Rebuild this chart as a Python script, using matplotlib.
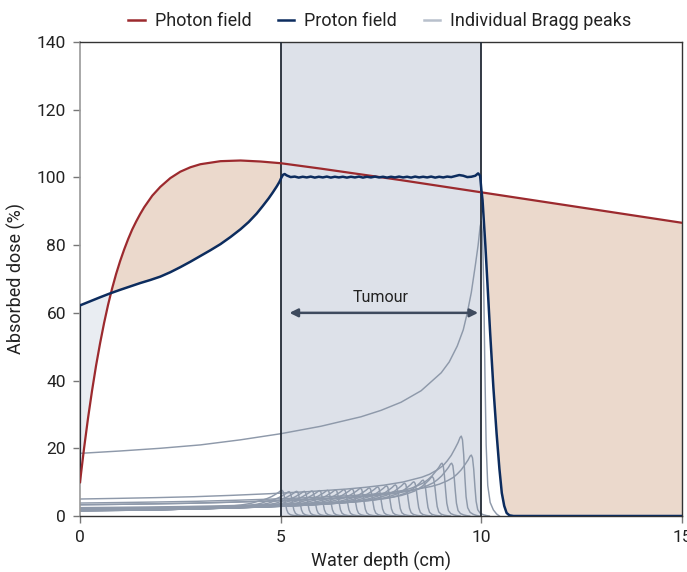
import numpy as np
import matplotlib
matplotlib.use("Agg")
import matplotlib.pyplot as plt
from matplotlib.lines import Line2D

plt.rcParams['font.family'] = ['Roboto', 'DejaVu Sans']

# ---------------- data ----------------
photon_depth = [0, 0.1, 0.2, 0.3, 0.4, 0.5, 0.6, 0.7, 0.8, 0.9, 1.0, 1.1, 1.2, 1.3,
                1.4, 1.5, 1.6, 1.8, 2.0, 2.25, 2.5, 2.75, 3.0, 3.5, 4.0, 4.5, 5.0,
                6.0, 7.0, 8.0, 9.0, 10.0, 11.0, 12.0, 13.0, 14.0, 15.0]
photon_dose = [10.0, 19.9, 28.9, 37.0, 44.4, 51.0, 57.0, 62.4, 67.2, 71.5, 75.3, 78.7,
               81.8, 84.6, 87.0, 89.2, 91.2, 94.6, 97.2, 99.8, 101.7, 103.0, 103.9,
               104.8, 105.0, 104.7, 104.2, 102.6, 100.9, 99.2, 97.4, 95.6, 93.8, 92.0,
               90.2, 88.4, 86.6]

proton_depth = [0, 0.25, 0.5, 0.75, 1.0, 1.25, 1.5, 1.75, 2.0, 2.25, 2.5, 2.75, 3.0,
                3.25, 3.5, 3.75, 4.0, 4.2, 4.4, 4.55, 4.7, 4.8, 4.9, 4.97, 5.02, 5.06,
                5.1, 5.15, 5.25, 5.35, 5.45, 5.55, 5.65, 5.75, 5.85, 5.95, 6.05, 6.15,
                6.25, 6.35, 6.45, 6.55, 6.65, 6.75, 6.85, 6.95, 7.05, 7.15, 7.25, 7.35,
                7.45, 7.55, 7.65, 7.75, 7.85, 7.95, 8.05, 8.15, 8.25, 8.35, 8.45, 8.55,
                8.65, 8.75, 8.85, 8.95, 9.05, 9.15, 9.25, 9.35, 9.45, 9.55, 9.65, 9.75,
                9.85, 9.92, 9.97, 10.0, 10.03, 10.1, 10.22, 10.3, 10.38, 10.45, 10.51,
                10.57, 10.63, 10.7, 10.8, 15.0]
proton_dose = [62.2, 63.4, 64.6, 65.75, 66.8, 67.8, 68.8, 69.7, 70.7, 72.0, 73.5, 75.1,
               76.8, 78.5, 80.3, 82.4, 84.7, 86.8, 89.3, 91.5, 93.8, 95.5, 97.3, 98.7,
               100.0, 100.8, 101.0, 100.6, 100.1, 100.25, 99.95, 100.2, 100.0, 100.25,
               99.95, 100.2, 100.0, 100.25, 99.95, 100.2, 100.0, 100.2, 99.95, 100.2,
               100.0, 100.25, 99.95, 100.2, 100.0, 100.25, 100.0, 100.2, 99.95, 100.2,
               100.0, 100.25, 100.0, 100.2, 99.95, 100.25, 100.0, 100.2, 100.0, 100.25,
               99.95, 100.2, 100.0, 100.25, 100.1, 100.4, 100.7, 100.5, 100.1, 100.2,
               100.5, 101.2, 100.5, 96.5, 93.3, 80.0, 54.0, 38.0, 24.4, 14.0, 6.8, 3.0,
               0.9, 0.2, 0.0, 0.0]

# shape of the pristine (deepest) Bragg peak: peak position 10 cm, height 87 %
bragg_shape_depth = [0, 1, 2, 3, 4, 5, 6, 7, 7.5, 8, 8.5, 9.0, 9.2, 9.4, 9.55, 9.65,
                     9.75, 9.85, 9.92, 9.97, 10.0, 10.03, 10.06, 10.09, 10.12, 10.16,
                     10.22, 10.3, 10.38, 10.45]
bragg_shape_dose = [18.5, 19.2, 20.0, 21.0, 22.5, 24.3, 26.5, 29.3, 31.2, 33.6, 37.0,
                    42.3, 45.5, 50.2, 55.0, 60.0, 66.0, 74.0, 80.0, 85.5, 87.0, 83.0,
                    67.0, 42.0, 21.0, 9.0, 4.0, 1.8, 0.6, 0.0]

peak_positions = [10.0, 9.75, 9.5, 9.26, 9.02, 8.78, 8.55, 8.32, 8.09, 7.86, 7.64, 7.42,
                  7.21, 6.99, 6.78, 6.58, 6.37, 6.17, 5.97, 5.78, 5.59, 5.40, 5.21, 5.03]
peak_heights = [87.0, 18.0, 23.6, 15.6, 15.6, 11.6, 10.6, 10.1, 9.7, 9.2, 8.9, 8.6,
                8.3, 8.2, 8.0, 7.8, 7.7, 7.6, 7.5, 7.4, 7.3, 7.3, 7.2, 7.6]

tumour_start, tumour_end = 5, 10
arrow_y = 60
x_ticks = [0, 5, 10, 15]
y_ticks = [0, 20, 40, 60, 80, 100, 120, 140]
legend_labels = ["Photon field", "Proton field", "Individual Bragg peaks"]

# ---------------- styling ----------------
c_photon = "#9c2a2e"
c_proton = "#0c2c5e"
c_bragg = "#8e99aa"
c_orange = "#ebd9cc"
c_tumour = "#dde1e9"
c_left = "#e9edf2"
c_arrow = "#3e4a5e"
c_text = "#222222"

fig = plt.figure(figsize=(6.87, 5.72), dpi=100)
ax = fig.add_axes([80/687, 1-516/572, (682-80)/687, (516-42)/572])

ax.axvspan(tumour_start, tumour_end, color=c_tumour, lw=0, zorder=0)

grid = np.linspace(0, 15, 6001)
ph = np.interp(grid, photon_depth, photon_dose)
pr = np.interp(grid, proton_depth, proton_dose)
lm = grid <= tumour_start
rm = grid >= tumour_end
ax.fill_between(grid[lm], ph[lm], pr[lm], where=ph[lm] >= pr[lm], interpolate=True,
                color=c_orange, lw=0, zorder=1)
ax.fill_between(grid[lm], ph[lm], pr[lm], where=pr[lm] > ph[lm], interpolate=True,
                color=c_left, lw=0, zorder=1)
ax.fill_between(grid[rm], ph[rm], pr[rm], where=ph[rm] >= pr[rm], interpolate=True,
                color=c_orange, lw=0, zorder=1)

# individual Bragg peaks: entrance part stretched to each range,
# peak region kept at the same width and shifted
sd = np.array(bragg_shape_depth)
sv = np.array(bragg_shape_dose)
ref_peak = 10.0
knee = 9.4
for R, H in zip(peak_positions, peak_heights):
    xs = np.where(sd < knee, sd / knee * (R - (ref_peak - knee)), R + (sd - ref_peak))
    ax.plot(xs, sv * H / sv.max(), color=c_bragg, lw=1.05, zorder=2)

ax.axvline(tumour_start, color="#232b36", lw=1.3, zorder=3)
ax.axvline(tumour_end, color="#232b36", lw=1.3, zorder=3)
ax.plot([0, 0], [photon_dose[0], proton_dose[0]], color="#232b36", lw=1.6, zorder=3)

ax.plot(photon_depth, photon_dose, color=c_photon, lw=1.6, zorder=4)
ax.plot(proton_depth, proton_dose, color=c_proton, lw=1.8, zorder=5)

ax.annotate("", xy=(5.22, arrow_y), xytext=(9.92, arrow_y),
            arrowprops=dict(arrowstyle="<|-|>", color=c_arrow, lw=1.8,
                            mutation_scale=12, shrinkA=0, shrinkB=0), zorder=6)
ax.text(7.5, arrow_y + 2.2, "Tumour", ha="center", va="bottom", fontsize=11.5,
        color=c_text, zorder=6)

ax.set_xlim(0, 15)
ax.set_ylim(0, 140)
ax.set_xticks(x_ticks)
ax.set_yticks(y_ticks)
ax.tick_params(axis='both', direction='out', length=5, width=1.0, color="#777777",
               labelsize=12.5, labelcolor=c_text, pad=5)
for s in ["top", "right", "bottom"]:
    ax.spines[s].set_color("#333333")
    ax.spines[s].set_linewidth(1.0)
ax.spines["left"].set_color("#999999")
ax.spines["left"].set_linewidth(1.2)

ax.set_xlabel("Water depth (cm)", fontsize=13, color=c_text, labelpad=5)
ax.set_ylabel("Absorbed dose (%)", fontsize=13, color=c_text, labelpad=8)

handles = [Line2D([], [], color=c_photon, lw=1.8),
           Line2D([], [], color=c_proton, lw=1.8),
           Line2D([], [], color="#b8c0cc", lw=1.8)]
fig.legend(handles, legend_labels, loc="center", bbox_to_anchor=(380/687, 1-21/572),
           ncol=3, frameon=False, fontsize=13, handlelength=0.9, handletextpad=0.55,
           columnspacing=1.5, labelcolor=c_text)

fig.savefig("out.png", dpi=100)
